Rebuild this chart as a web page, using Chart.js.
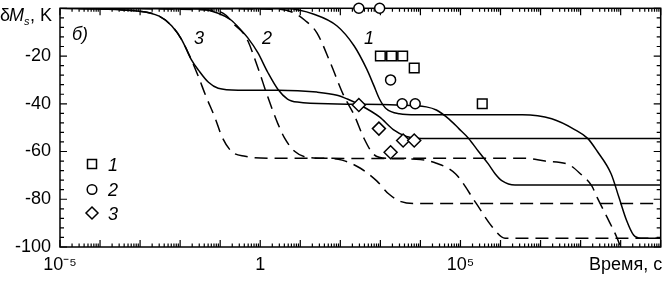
<!DOCTYPE html>
<html>
<head>
<meta charset="utf-8">
<script src="https://cdn.jsdelivr.net/npm/chart.js@4.4.0/dist/chart.umd.min.js"></script>
<style>
  body { margin: 0; background: #fff; }
  canvas { display: block; }
</style>
</head>
<body>
<canvas id="chart" width="669" height="283"></canvas>
<script>
// curve 3 (solid / dashed), time in s, dMs in K
const s3Time = [1e-5, 9.5e-4, 3e-3, 6.2e-3, 1.1e-2, 1.9e-2, 2.9e-2, 5.1e-2, 8.9e-2, 0.28, 2.8, 26, 83, 150, 310, 950, 2100, 4500, 1.05e4, 1e10];
const s3Val  = [0, -1.2, -3.3, -7.4, -13.2, -21.5, -26, -31, -33.5, -34.3, -34.3, -35.1, -36.4, -38, -40.5, -45.5, -50.8, -53.7, -54.5, -54.5];
const d3Time = [1e-5, 9.5e-4, 3e-3, 6.2e-3, 1.1e-2, 1.9e-2, 2.9e-2, 4.3e-2, 7.6e-2, 0.11, 0.19, 0.42, 1.55, 47, 110, 310, 810, 1600, 3300, 7900, 1e10];
const d3Val  = [0, -1.2, -3.3, -7.4, -13.2, -21.5, -28.9, -36.4, -46.3, -53.7, -59.9, -62, -62.8, -62.8, -63.6, -66.9, -72.3, -77.7, -81, -81.8, -81.8];

// curve 2
const s2Time = [1e-5, 2.9e-2, 8.9e-2, 0.19, 0.33, 0.49, 0.87, 1.55, 2.75, 4.8, 8.5, 83, 2500, 1.4e4, 2.5e4, 5.1e4, 9.1e4, 1.6e5, 2.8e5, 5e5, 7.4e5, 1.1e6, 2.3e6, 1e10];
const s2Val  = [0, -0.3, -2.1, -5, -9.1, -12.4, -18.6, -26.9, -33.9, -38, -39.3, -40.1, -40.5, -41.3, -42.6, -46.3, -50.4, -54.5, -59.9, -65.3, -69.4, -72.3, -74, -74];
const d2Time = [1e-5, 6.8e-2, 0.14, 0.23, 0.37, 0.49, 0.87, 1.55, 2.75, 4.1, 7.2, 15, 47, 2500, 7900, 2.5e4, 7.6e4, 2.4e5, 6.3e5, 1.3e6, 3.1e6, 1e10];
const d2Val  = [0, -0.8, -2.9, -7, -10.3, -13.6, -24.8, -37.2, -48.3, -54.5, -59.9, -62.4, -62.8, -63, -63.2, -64.9, -69.4, -81.4, -91.7, -96.3, -96.3, -96.3];

// curve 1
const s1Time = [1e-5, 4.8, 22, 83, 220, 460, 680, 950, 1400, 3000, 7900, 3.5e6, 1.9e7, 7.1e7, 1.5e8, 2.6e8, 5.8e8, 9.1e8, 1.4e9, 2.1e9, 3.2e9, 1e10];
const s1Val  = [0, -0.2, -2.5, -7.4, -15.7, -25.6, -32.2, -38, -42.1, -44.2, -44.6, -44.6, -46.3, -50.8, -54.5, -59.9, -69.4, -79.3, -88.8, -95, -96.3, -96.3];
const d1Time = [1e-5, 2.75, 6.5, 13, 26, 56, 120, 220, 390, 680, 1400, 4.1e6, 1.3e7, 4.8e7, 1e8, 1.9e8, 2.6e8, 4.6e8, 7.8e8, 1.1e9, 2.1e9];
const d1Val  = [0, -0.4, -1.7, -5, -10.3, -22.7, -36.4, -44.6, -54.5, -61.2, -62.8, -62.8, -64, -65.3, -69.4, -74.4, -79.3, -87.6, -95.5, -101.7, -110];

// experimental points
const sqTime = [1e3, 1.9e3, 3.6e3, 7e3, 3.5e5];
const sqVal  = [-20, -20, -20, -25, -40];
const ciTime = [2.9e2, 9.6e2, 1.8e3, 3.5e3, 7.4e3];
const ciVal  = [0, 0, -30, -40, -40];
const diTime = [2.9e2, 9.2e2, 1.8e3, 3.7e3, 7e3];
const diVal  = [-40.5, -50.4, -60.3, -55.4, -55.4];

// axis ticks
const decades = [-5, -4, -3, -2, -1, 0, 1, 2, 3, 4, 5, 6, 7, 8, 9, 10];
const mantissas = [1, 2, 3, 4, 5, 6, 7, 8, 9];
const xLabels = { '-5': '10⁻⁵', '0': '1', '5': '10⁵' };

const xTicks = [];
decades.forEach(e => mantissas.forEach(m => {
  const v = m * Math.pow(10, e);
  if (v <= 1e10 * 1.0001) xTicks.push(v);
}));

const pts = (t, v) => t.map((x, i) => ({ x: x, y: v[i] }));
const isDecade = v => Math.abs(Math.log10(v) - Math.round(Math.log10(v))) < 1e-6;

const lineSet = (t, v, dashed) => ({
  data: pts(t, v),
  borderColor: '#000',
  borderWidth: 1.5,
  borderDash: dashed ? [13, 7] : [],
  pointRadius: 0,
  cubicInterpolationMode: 'monotone',
  fill: false
});
const markSet = (t, v, style, r) => ({
  data: pts(t, v),
  showLine: false,
  pointStyle: style,
  pointRadius: r,
  pointBorderWidth: 1.5,
  pointBorderColor: '#000',
  pointBackgroundColor: '#fff',
  clip: false
});

const FONT = '"Liberation Sans", Arial, sans-serif';

const decor = {
  id: 'decor',
  beforeDatasetsDraw(chart) {
    const { ctx, chartArea: a, scales: { x, y } } = chart;
    ctx.save();
    ctx.strokeStyle = '#000';
    ctx.lineWidth = 1.5;
    ctx.strokeRect(a.left, a.top, a.right - a.left, a.bottom - a.top);
    ctx.lineWidth = 1.2;
    ctx.beginPath();
    x.ticks.forEach(t => {
      const px = x.getPixelForValue(t.value);
      const len = isDecade(t.value) ? 7 : 3.5;
      ctx.moveTo(px, a.bottom); ctx.lineTo(px, a.bottom - len);
      ctx.moveTo(px, a.top); ctx.lineTo(px, a.top + len);
    });
    y.ticks.forEach(t => {
      const py = y.getPixelForValue(t.value);
      const len = t.value % 20 === 0 ? 7 : 4;
      ctx.moveTo(a.left, py); ctx.lineTo(a.left + len, py);
      ctx.moveTo(a.right, py); ctx.lineTo(a.right - len, py);
    });
    ctx.stroke();
    ctx.restore();
  },
  afterDraw(chart) {
    const { ctx } = chart;
    ctx.save();
    ctx.fillStyle = '#000';
    ctx.textBaseline = 'alphabetic';
    // axis names
    ctx.font = '18px ' + FONT;
    ctx.fillText('δ', 0, 21);
    ctx.font = 'italic 18px ' + FONT;
    ctx.fillText('M', 9, 21);
    ctx.font = 'italic 11px ' + FONT;
    ctx.fillText('s', 24, 25);
    ctx.font = '18px ' + FONT;
    ctx.fillText(', K', 30, 21);
    ctx.fillText('Время, с', 589, 270);
    // curve labels
    ctx.font = 'italic 18px ' + FONT;
    ctx.textAlign = 'center';
    ctx.fillText('б)', 80, 40);
    ctx.fillText('3', 199, 44);
    ctx.fillText('2', 267, 44);
    ctx.fillText('1', 369, 44);
    // legend
    ctx.textAlign = 'left';
    ctx.fillText('1', 108, 171);
    ctx.fillText('2', 108, 196);
    ctx.fillText('3', 108, 220);
    ctx.strokeStyle = '#000';
    ctx.lineWidth = 1.5;
    ctx.strokeRect(87.5, 159.5, 9, 9);
    ctx.beginPath();
    ctx.arc(92, 189.5, 4.8, 0, Math.PI * 2);
    ctx.stroke();
    ctx.beginPath();
    ctx.moveTo(92, 207); ctx.lineTo(98, 213); ctx.lineTo(92, 219); ctx.lineTo(86, 213); ctx.closePath();
    ctx.stroke();
    ctx.restore();
  }
};

new Chart(document.getElementById('chart'), {
  type: 'line',
  data: {
    datasets: [
      markSet(sqTime, sqVal, 'rect', 6.8),
      markSet(ciTime, ciVal, 'circle', 5),
      markSet(diTime, diVal, 'rectRot', 6.5),
      lineSet(s1Time, s1Val, false),
      lineSet(d1Time, d1Val, true),
      lineSet(s2Time, s2Val, false),
      lineSet(d2Time, d2Val, true),
      lineSet(s3Time, s3Val, false),
      lineSet(d3Time, d3Val, true)
    ]
  },
  options: {
    responsive: false,
    animation: false,
    layout: { padding: { top: 5, right: 2, left: 0, bottom: 0 } },
    plugins: { legend: { display: false }, tooltip: { enabled: false } },
    scales: {
      x: {
        type: 'logarithmic',
        min: 1e-5,
        max: 1e10,
        afterBuildTicks: s => { s.ticks = xTicks.map(v => ({ value: v })); },
        afterFit: s => { s.height = 36; s.paddingLeft = 0; s.paddingRight = 0; },
        grid: { display: false, drawTicks: false },
        border: { display: false },
        ticks: {
          autoSkip: false,
          maxRotation: 0,
          padding: 7,
          color: '#000',
          font: { family: FONT, size: 18 },
          callback: v => {
            if (!isDecade(v)) return '';
            const e = String(Math.round(Math.log10(v)));
            return xLabels[e] || '';
          }
        }
      },
      y: {
        min: -100,
        max: 0,
        afterFit: s => { s.width = 60; s.paddingTop = 0; s.paddingBottom = 0; },
        grid: { display: false, drawTicks: false },
        border: { display: false },
        ticks: {
          stepSize: 4,
          autoSkip: false,
          padding: 9,
          color: '#000',
          font: { family: FONT, size: 18 },
          callback: v => (v % 20 === 0 && v !== 0) ? String(v) : ''
        }
      }
    }
  },
  plugins: [decor]
});
</script>
</body>
</html>
